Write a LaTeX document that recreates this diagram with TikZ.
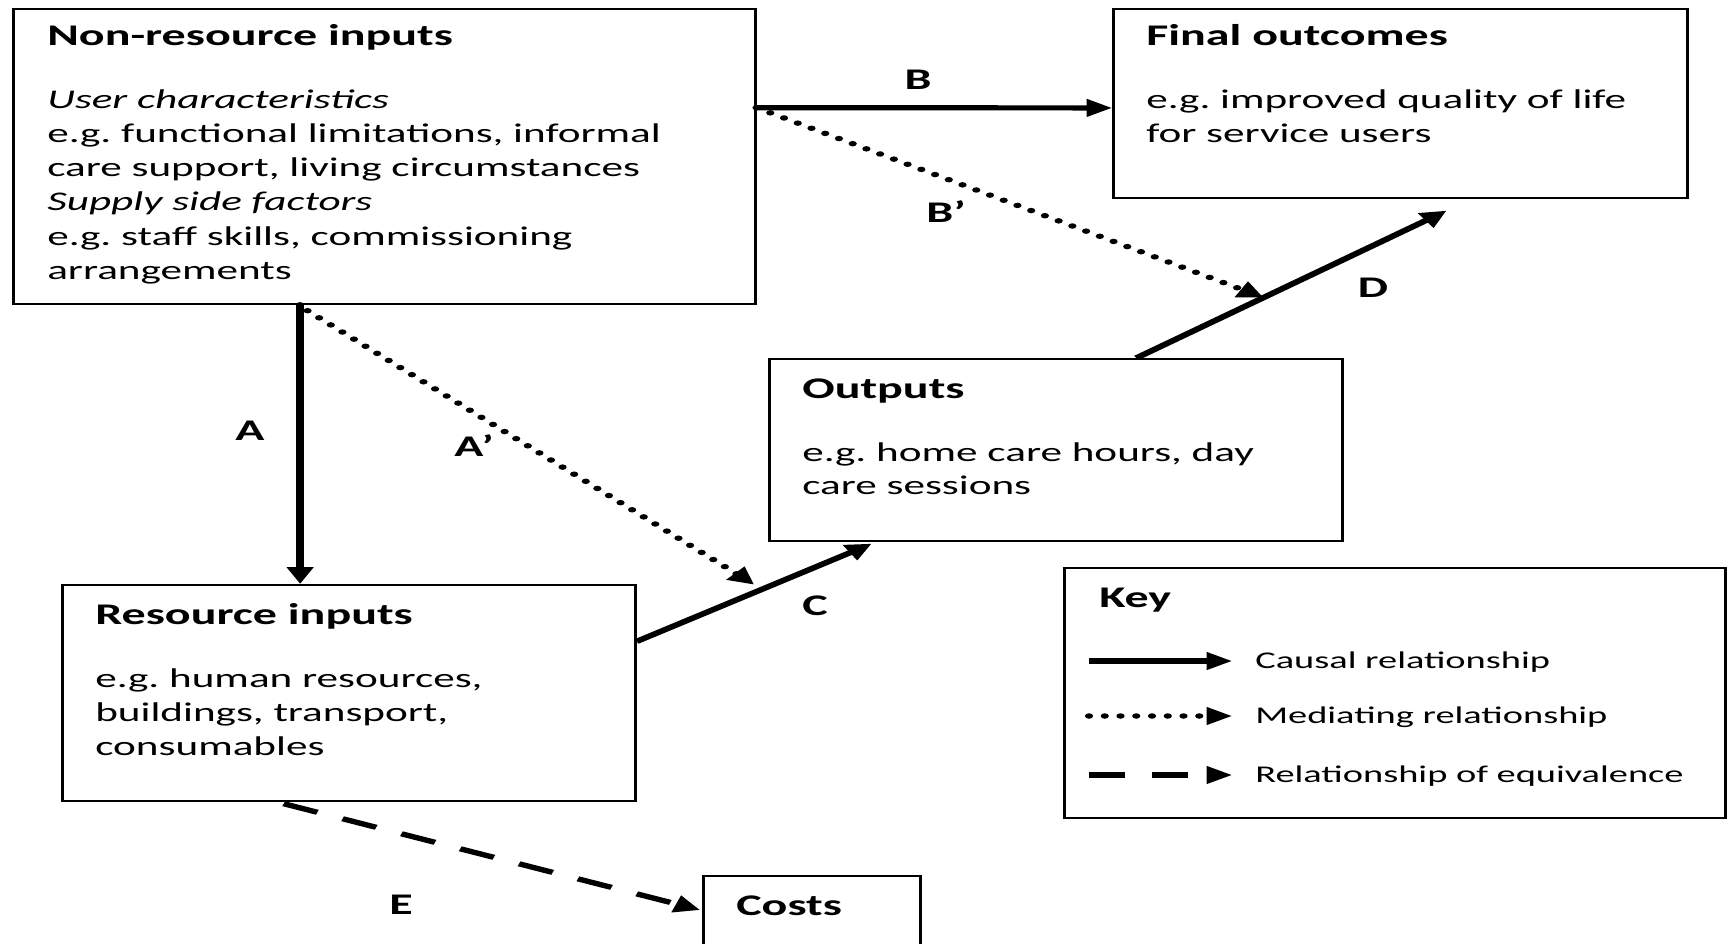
\documentclass[tikz,border=0pt]{standalone}
\usepackage{fontspec}
\usepackage{graphicx}
\setmainfont{Carlito}
\frenchspacing
\usetikzlibrary{arrows.meta,calc}
\newcommand\hstr[1]{\scalebox{1.0667}[1]{#1}}
\begin{document}
\begin{tikzpicture}[x=1pt,y=-1pt]
\useasboundingbox (0,0) rectangle (1728,944);
\clip (0,0) rectangle (1728,944);
\begin{scope}[transform canvas={xscale=1.5},x=0.666667pt,y=-1pt,
 box/.style={draw,line width=1.7pt,inner sep=0pt,anchor=north west},
 txt/.style={anchor=base west,inner sep=0pt,font=\fontsize{27}{32}\selectfont},
 ttl/.style={anchor=base west,inner sep=0pt,font=\fontsize{30}{32}\selectfont\bfseries},
 lbl/.style={inner sep=0pt,font=\fontsize{30}{32}\selectfont\bfseries},
 keytxt/.style={anchor=base west,inner sep=0pt,font=\fontsize{24}{26}\selectfont},
 tip/.style={-{Triangle[length=17pt,width=17pt]}},
 causal/.style={tip,line width=5.2pt},
 mediating/.style={tip,line width=5.5pt,line cap=round,dash pattern=on 0pt off 10.5pt},
 equiv/.style={tip,line width=5.2pt,dash pattern=on 24pt off 18pt},
]
% boxes
\node[box,minimum width=494.67pt,minimum height=295pt] (nr) at (12,8) {};
\node[box,minimum width=382.67pt,minimum height=189pt] (fo) at (1112,8) {};
\node[box,minimum width=382pt,minimum height=182pt] (op) at (768,358) {};
\node[box,minimum width=382pt,minimum height=216pt] (ri) at (61,584) {};
\node[box,minimum width=144.67pt,minimum height=120pt] (co) at (702,875) {};
\node[box,minimum width=440.67pt,minimum height=250pt] (key) at (1063,567) {};

% texts: non-resource inputs
\node[ttl] (nrt) at (47,46) {\hstr{Non-resource inputs}};
\node[txt] (nr1) at (47,109) {\hstr{\itshape User characteristics}};
\node[txt] (nr2) at (47,143) {\hstr{e.g. functional limitations, informal}};
\node[txt] (nr3) at (47,177) {\hstr{care support, living circumstances}};
\node[txt] (nr4) at (47,211) {\hstr{\itshape Supply side factors}};
\node[txt] (nr5) at (47,245) {\hstr{e.g. staff skills, commissioning}};
\node[txt] (nr6) at (47,279) {\hstr{arrangements}};
% final outcomes
\node[ttl] (fot) at (1146,46) {\hstr{Final outcomes}};
\node[txt] (fo1) at (1146,109) {\hstr{e.g. improved quality of life}};
\node[txt] (fo2) at (1146,143) {\hstr{for service users}};
% outputs
\node[ttl] (opt) at (802,398) {\hstr{Outputs}};
\node[txt] (op1) at (802,461) {\hstr{e.g. home care hours, day}};
\node[txt] (op2) at (802,494) {\hstr{care sessions}};
% resource inputs
\node[ttl] (rit) at (95,624) {\hstr{Resource inputs}};
\node[txt] (ri1) at (95,687) {\hstr{e.g. human resources,}};
\node[txt] (ri2) at (95,721) {\hstr{buildings, transport,}};
\node[txt] (ri3) at (95,755) {\hstr{consumables}};
% costs
\node[ttl] (cot) at (736,915) {\hstr{Costs}};
% key
\node[ttl] (keyt) at (1099,607) {\hstr{Key}};

% connectors
\coordinate (bS) at ($(nr.north east)!0.336!(nr.south east)$);
\coordinate (bE) at ($(fo.north west)!0.524!(fo.south west)$);
\draw[causal] (bS) -- (bE);

\coordinate (dS) at ($(op.north west)!0.64!(op.north east)$);
\coordinate (dE) at ($(fo.south west)!0.58!(fo.south east)+(0,12)$);
\draw[causal] (dS) -- (dE);

\coordinate (bpE) at ($(dS)!0.41!(dE)$);
\draw[mediating] (bS) -- (bpE);

\coordinate (aS) at ($(nr.south west)!0.387!(nr.south east)$);
\draw[causal,line cap=round] (aS) -- (aS |- ri.north);

\coordinate (cS) at ($(ri.north east)!0.264!(ri.south east)$);
\coordinate (cE) at ($(op.south west)!0.18!(op.south east)+(0,2)$);
\draw[causal] (cS) -- (cE);

\coordinate (apS) at ($(nr.south west)!0.397!(nr.south east)+(0,6)$);
\coordinate (apE) at ($(cS)!0.5!(cE)+(0,-8)$);
\draw[mediating] (apS) -- (apE);

\coordinate (eS) at ($(ri.south west)!0.387!(ri.south east)+(0,2)$);
\coordinate (eE) at ($(co.north west)+(-2,35)$);
\draw[equiv] (eS) -- (eE);

% labels
\node[lbl] (lB) at (918,80) {\hstr{B}};
\node[lbl] (lBp) at (946,212) {\hstr{B’}};
\node[lbl] (lD) at (1373,288) {\hstr{D}};
\node[lbl] (lA) at (250,431) {\hstr{A}};
\node[lbl] (lAp) at (474,446) {\hstr{A’}};
\node[lbl] (lC) at (815,606) {\hstr{C}};
\node[lbl] (lE) at (401,905) {\hstr{E}};

% key entries
\coordinate (k1s) at (1089,661); \coordinate (k1e) at (1232,661);
\coordinate (k2s) at (1089,716); \coordinate (k2e) at (1232,716);
\coordinate (k3s) at (1089,775); \coordinate (k3e) at (1232,775);
\draw[causal] (k1s) -- (k1e);
\draw[mediating] (k2s) -- (k2e);
\draw[equiv] (k3s) -- (k3e);
\node[keytxt] (kt1) at (1255,668) {\hstr{Causal relationship}};
\node[keytxt] (kt2) at (1255,723) {\hstr{Mediating relationship}};
\node[keytxt] (kt3) at (1255,782) {\hstr{Relationship of equivalence}};
\end{scope}
\end{tikzpicture}
\end{document}
